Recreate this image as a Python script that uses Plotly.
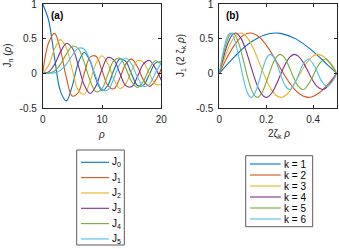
import plotly.graph_objects as go

# ---------------- data: panel (a)  J_n(rho) ----------------
RHO_A = [0, 1, 2, 3, 4, 5, 6, 7, 8, 9, 10, 11, 12, 13, 14, 15, 16, 17, 18, 19, 20]
J0 = [1, .7652, .2239, -.2601, -.3971, -.1776, .1506, .3001, .1717, -.0903, -.2459,
      -.1712, .0477, .2069, .1711, -.0142, -.1749, -.1699, -.0134, .1466, .1670]
J1 = [0, .4401, .5767, .3391, -.0660, -.3276, -.2767, -.0047, .2346, .2453, .0435,
      -.1768, -.2234, -.0703, .1334, .2051, .0904, -.0977, -.1880, -.1057, .0668]
J2 = [0, .1149, .3528, .4861, .3641, .0466, -.2429, -.3014, -.1130, .1448, .2546,
      .1390, -.0849, -.2177, -.1520, .0416, .1862, .1584, -.0075, -.1577, -.1603]
J3 = [0, .0196, .1289, .3091, .4302, .3648, .1148, -.1676, -.2911, -.1809, .0584,
      .2273, .1951, .0033, -.1768, -.1940, -.0438, .1350, .1863, .0725, -.0989]
J4 = [0, .0025, .0340, .1320, .2811, .3912, .3576, .1578, -.1054, -.2655, -.2196,
      -.0150, .1825, .2193, .0762, -.1192, -.2026, -.1108, .0696, .1806, .1306]
J5 = [0, .0002, .0070, .0430, .1321, .2611, .3621, .3479, .1858, -.0550, -.2341,
      -.2383, -.0735, .1316, .2204, .1305, -.0575, -.1871, -.1554, .0036, .1511]
NAMES_A = ["J<sub>0</sub>", "J<sub>1</sub>", "J<sub>2</sub>", "J<sub>3</sub>", "J<sub>4</sub>", "J<sub>5</sub>"]

# ---------------- data: panel (b)  J_1(2 zeta_k rho) ----------------
J1_SAMPLES = [0, .2423, .4401, .5579, .5819, .5767, .4971, .3391, .1374, 0,
              -.0660, -.2311, -.3276, -.3461, -.3414, -.2767, -.1538, -.0047, 0,
              .1352, .2346, .2731, .2453, .1613, .0435, 0,
              -.0788, -.1768, -.2333, -.2234, -.0703, 0,
              .1334, .2066, .2051, .0904, 0,
              -.0977, -.1880, -.1057, 0]
RHO_K1 = [0, .0652, .1305, .1957, .2402, .2610, .3262, .3915, .4567, .5]
RHO_K2 = [0, .0356, .0713, .1069, .1312, .1425, .1782, .2138, .2494, .2731, .2851, .3207,
          .3563, .3799, .3920, .4276, .4633, .4989, .5]
RHO_K3 = [0, .0246, .0491, .0737, .0905, .0983, .1229, .1474, .1720, .1883, .1966, .2212,
          .2457, .2620, .2703, .2949, .3195, .3440, .3448, .3686, .3932, .4177, .4423,
          .4669, .4915, .5]
RHO_K4 = [0, .0188, .0375, .0563, .0691, .0751, .0938, .1126, .1313, .1438, .1501, .1689,
          .1876, .2001, .2064, .2252, .2439, .2627, .2633, .2815, .3002, .3190, .3377,
          .3565, .3753, .3818, .3940, .4128, .4393, .4503, .4879, .5]
RHO_K5 = [0, .0152, .0304, .0455, .0559, .0607, .0759, .0911, .1062, .1163, .1214, .1366,
          .1518, .1618, .1670, .1821, .1973, .2125, .2130, .2277, .2429, .2580, .2732,
          .2884, .3036, .3088, .3187, .3339, .3554, .3643, .3946, .4045, .4250, .4512,
          .4554, .4857, .5]
RHO_K6 = [0, .0127, .0255, .0382, .0469, .0510, .0637, .0765, .0892, .0977, .1020, .1147,
          .1274, .1359, .1402, .1529, .1657, .1784, .1788, .1912, .2039, .2167, .2294,
          .2422, .2549, .2593, .2676, .2804, .2984, .3059, .3314, .3396, .3569, .3789,
          .3823, .4078, .4198, .4333, .4588, .4843, .5]
NAMES_B = ["k = 1", "k = 2", "k = 3", "k = 4", "k = 5", "k = 6"]

# ---------------- ticks / labels ----------------
Y_TICKS = [-0.5, 0, 0.5, 1]
Y_TICK_TEXT = ["-0.5", "0", "0.5", "1"]
XA_TICKS = [0, 10, 20]
XA_TICK_TEXT = ["0", "10", "20"]
XB_TICKS = [0, 0.2, 0.4]
XB_TICK_TEXT = ["0", "0.2", "0.4"]
XA_TITLE = "<i>ρ</i>"
YA_TITLE = "J<sub>n</sub> (<i>ρ</i>)"
XB_TITLE = "2ζ<sub>k</sub> <i>ρ</i>"
YB_TITLE = "J<sub>1</sub> (2 ζ<sub>k</sub> <i>ρ</i>)"

COLORS = ["#0072BD", "#D95319", "#EDB120", "#7E2F8E", "#77AC30", "#4DBEEE"]
FONT = "Liberation Sans, Arial, Helvetica, sans-serif"
AX = "#262626"
W, H = 339, 249
PAD = 6  # extra room above the page top so the "1" tick labels are not culled


def px(x):
    return x / W


def py(y):
    return 1 - (y + PAD) / (H + PAD)


fig = go.Figure()
for ys, c, n in zip([J0, J1, J2, J3, J4, J5], COLORS, NAMES_A):
    fig.add_trace(go.Scatter(x=RHO_A, y=ys, mode="lines", name=n, showlegend=False,
                             line=dict(color=c, width=1.1, shape="spline", smoothing=1.0),
                             xaxis="x", yaxis="y"))
for rs, c, n in zip([RHO_K1, RHO_K2, RHO_K3, RHO_K4, RHO_K5, RHO_K6], COLORS, NAMES_B):
    fig.add_trace(go.Scatter(x=rs, y=J1_SAMPLES[:len(rs)], mode="lines", name=n, showlegend=False,
                             line=dict(color=c, width=1.1, shape="spline", smoothing=1.0),
                             xaxis="x2", yaxis="y2"))

axis_common = dict(showline=True, linecolor=AX, linewidth=0.8, mirror="ticks",
                   ticks="inside", ticklen=3, tickcolor=AX, tickwidth=0.8,
                   showgrid=False, zeroline=False, ticklabeloverflow="allow",
                   automargin=False,
                   tickfont=dict(family=FONT, size=10, color=AX))
TITLE_FONT = dict(family=FONT, size=10, color=AX)

YDOM = [py(108), py(4)]
fig.update_layout(
    width=W, height=H + PAD, margin=dict(l=0, r=0, t=0, b=0),
    paper_bgcolor="white", plot_bgcolor="white", showlegend=False,
    xaxis=dict(domain=[px(42.7), px(161.3)], range=[0, 20], tickvals=XA_TICKS,
               ticktext=XA_TICK_TEXT, anchor="y", ticklabelstandoff=2, **axis_common),
    yaxis=dict(domain=YDOM, range=[-0.5, 1], tickvals=Y_TICKS, ticktext=Y_TICK_TEXT, anchor="x",
               ticklabelstandoff=3, **axis_common),
    xaxis2=dict(domain=[px(219.3), px(336.7)], range=[0, 0.5], tickvals=XB_TICKS,
                ticktext=XB_TICK_TEXT, anchor="y2", ticklabelstandoff=2, **axis_common),
    yaxis2=dict(domain=YDOM, range=[-0.5, 1], tickvals=Y_TICKS, ticktext=Y_TICK_TEXT, anchor="x2",
                ticklabelstandoff=3, **axis_common),
)


def label(x, y, text, angle=0, bold=False, anchor="center"):
    fig.add_annotation(x=px(x), y=py(y), xref="paper", yref="paper",
                       text=("<b>%s</b>" % text) if bold else text, textangle=angle,
                       showarrow=False, xanchor=anchor, yanchor="middle",
                       font=dict(family=FONT, size=10, color=AX if not bold else "black"))


# axis titles
label(101, 134, XA_TITLE)
label(7.5, 56, YA_TITLE, angle=-90)
label(279, 134, XB_TITLE)
label(181, 56, YB_TITLE, angle=-90)
# panel labels
label(49, 15, "(a)", bold=True, anchor="left")
label(224, 15, "(b)", bold=True, anchor="left")


def draw_legend(box, first_y, step, line_x, text_x, names):
    x0, y0, x1, y1 = box
    fig.add_shape(type="rect", xref="paper", yref="paper", x0=px(x0), x1=px(x1),
                  y0=py(y1), y1=py(y0), line=dict(color="#595959", width=1), fillcolor="white")
    for i, (n, c) in enumerate(zip(names, COLORS)):
        yy = first_y + i * step
        fig.add_shape(type="line", xref="paper", yref="paper", x0=px(line_x[0]), x1=px(line_x[1]),
                      y0=py(yy), y1=py(yy), line=dict(color=c, width=1.1))
        fig.add_annotation(x=px(text_x), y=py(yy), xref="paper", yref="paper", text=n,
                           showarrow=False, xanchor="left", yanchor="middle",
                           font=dict(family=FONT, size=10, color="black"))


draw_legend((76.7, 150, 124.3, 245), 162.3, 15.33, (81, 109), 110, NAMES_A)
draw_legend((245.7, 155.7, 312.7, 226.7), 164, 11.0, (250, 280.7), 282, NAMES_B)

fig.write_html("out.html", config={"displayModeBar": False},
               post_script="document.body.style.margin='0';document.body.style.overflow='hidden';"
                           "document.body.style.marginTop='-%dpx';" % PAD)
